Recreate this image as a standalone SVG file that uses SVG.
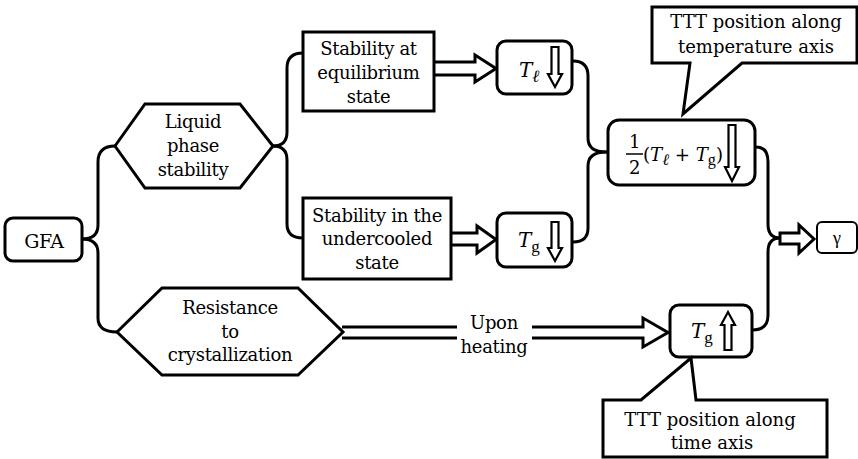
<svg xmlns="http://www.w3.org/2000/svg" width="858" height="459" viewBox="0 0 858 459">
<style>
.box{fill:#fff;stroke:#000;stroke-width:3;stroke-linejoin:miter}
.rbox{fill:#fff;stroke:#000;stroke-width:3}
.con{fill:none;stroke:#000;stroke-width:3;stroke-linecap:round}
.harrow{fill:#fff;stroke:#000;stroke-width:3;stroke-linejoin:miter}
.sarrow{fill:#fff;stroke:#000;stroke-width:2.2;stroke-linejoin:miter}
.t{font-family:"DejaVu Serif",serif;font-size:18px;letter-spacing:-0.3px;text-anchor:middle;fill:#000}
.c{font-family:"DejaVu Serif",serif;font-size:18px;text-anchor:middle;fill:#000}
.m{font-family:"DejaVu Serif",serif;font-size:20px;fill:#000}
.s{font-family:"Liberation Serif",serif}
.i{font-style:italic}
</style>
<rect width="858" height="459" fill="#fff"/>
<g id="connectors">
<path class="con" d="M82,239 Q98,239 98,225 L98,162 Q98,146 115,146"/>
<path class="con" d="M82,239 Q98,239 98,253 L98,318 Q98,332 117,332"/>
<path class="con" d="M273,146 Q287,146 287,132 L287,68 Q287,53 303,53"/>
<path class="con" d="M273,146 Q287,146 287,160 L287,224 Q287,238 303,238"/>
<path class="con" d="M573,61 Q588,61 588,76 L588,138 Q588,152 606,152"/>
<path class="con" d="M606,152 Q588,152 588,166 L588,228 Q588,242 573,242"/>
<path class="con" d="M756,147 Q768,147 768,162 L768,224 Q768,238 780,238"/>
<path class="con" d="M753,330 Q768,330 768,315 L768,252 Q768,238 780,238"/>
<path class="harrow" d="M435,62 L475,62 L475,55 L496,68.5 L475,82 L475,75 L435,75"/>
<path class="harrow" d="M451,233 L477,233 L477,226 L496,239.5 L477,253 L477,245 L451,245"/>
<path class="harrow" d="M780,233 L799,233 L799,225 L814,239 L799,253 L799,244 L780,244 Z"/>
<path class="harrow" d="M342,327 L457,327 M532,327 L643,327 L643,318 L668,332.5 L643,347 L643,338 L532,338 M457,338 L342,338"/>
<text class="t" x="494" y="329">Upon</text>
<text class="t" x="494" y="353">heating</text>
</g>
<g id="gfa">
<rect class="rbox" x="5" y="218" width="77" height="43" rx="8"/>
<text class="t" x="44" y="248" style="font-size:19px">GFA</text>
</g>
<g id="liquid">
<polygon class="box" points="115,146 145,104 240,104 273,146 240,188 145,188"/>
<text class="t" x="193" y="128">Liquid</text>
<text class="t" x="193" y="152">phase</text>
<text class="t" x="193" y="176">stability</text>
</g>
<g id="resistance">
<polygon class="box" points="117,332 162,288 298,288 343,332 298,375 162,375"/>
<text class="t" x="230" y="314">Resistance</text>
<text class="t" x="230" y="338">to</text>
<text class="t" x="230" y="361">crystallization</text>
</g>
<g id="equilibrium">
<rect class="box" x="303" y="32" width="131" height="79"/>
<text class="t" x="368.5" y="55">Stability at</text>
<text class="t" x="368.5" y="79">equilibrium</text>
<text class="t" x="368.5" y="103">state</text>
</g>
<g id="undercooled">
<rect class="box" x="303" y="198" width="148" height="81"/>
<text class="t" x="377" y="222">Stability in the</text>
<text class="t" x="377" y="245">undercooled</text>
<text class="t" x="377" y="269">state</text>
</g>
<g id="tl">
<rect class="rbox" x="497" y="41" width="75" height="53" rx="9"/>
<text class="m i" x="519" y="77">T<tspan class="s" font-size="17" dy="5">ℓ</tspan></text>
<path class="sarrow" d="M551.5,47 L558.5,47 L558.5,74 L562,74 L555,87 L548,74 L551.5,74 Z"/>
</g>
<g id="tg1">
<rect class="rbox" x="497" y="213" width="75" height="54" rx="9"/>
<text class="m" x="518" y="247"><tspan class="i">T</tspan><tspan class="s" font-size="17" dy="5">g</tspan></text>
<path class="sarrow" d="M551.5,222 L558.5,222 L558.5,248 L562,248 L555,261 L548,248 L551.5,248 Z"/>
</g>
<g id="half">
<rect class="rbox" x="608" y="120" width="147" height="65" rx="11"/>
<text class="t" x="634.5" y="148">1</text>
<line x1="626" y1="154" x2="643" y2="154" stroke="#000" stroke-width="1.5"/>
<text class="t" x="634.5" y="174">2</text>
<text class="m" x="643" y="161" style="font-size:18px" textLength="80" lengthAdjust="spacingAndGlyphs">(<tspan class="i">T</tspan><tspan class="i s" font-size="16" dy="4">ℓ</tspan><tspan dy="-4"> + </tspan><tspan class="i">T</tspan><tspan class="s" font-size="16" dy="4">g</tspan><tspan dy="-4">)</tspan></text>
<path class="sarrow" d="M728.5,125 L735.5,125 L735.5,167 L739,167 L732,181 L725,167 L728.5,167 Z"/>
</g>
<g id="tg2">
<rect class="rbox" x="670" y="305" width="82" height="52" rx="9"/>
<text class="m" x="691" y="338"><tspan class="i">T</tspan><tspan class="s" font-size="17" dy="5">g</tspan></text>
<path class="sarrow" d="M724.5,350 L731.5,350 L731.5,325 L735,325 L728,312 L721,325 L724.5,325 Z"/>
</g>
<g id="gamma">
<rect x="817" y="222" width="40" height="31" rx="5" fill="#fff" stroke="#000" stroke-width="2"/>
<text class="c s" x="837" y="244" style="font-size:18px">γ</text>
</g>
<g id="callout-temp">
<path class="box" d="M652,7 L857,7 L857,63 L742,63 L683,114 L690,63 L652,63 Z"/>
<text class="c" x="756" y="28">TTT position along</text>
<text class="c" x="756" y="53">temperature axis</text>
</g>
<g id="callout-time">
<path class="box" d="M603,400 L641,400 L691,358 L696,400 L827,400 L827,457 L603,457 Z"/>
<text class="c" x="710" y="426">TTT position along</text>
<text class="c" x="712" y="449">time axis</text>
</g>
</svg>
